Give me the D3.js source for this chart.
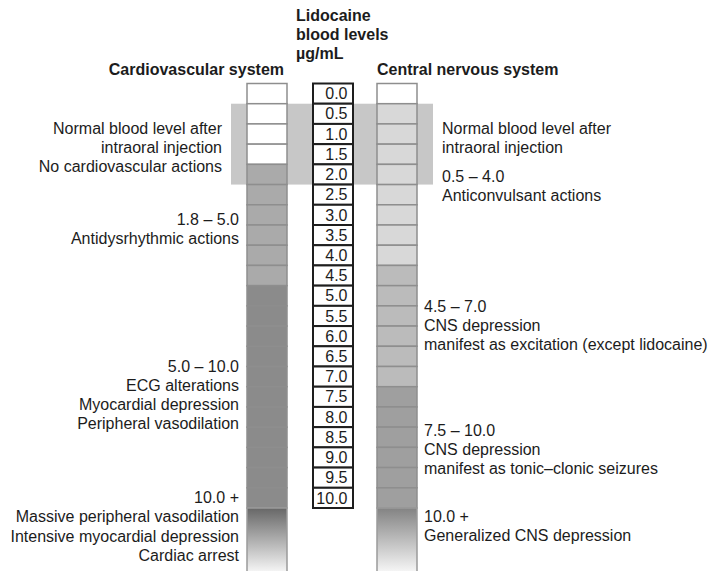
<!DOCTYPE html>
<html>
<head>
<meta charset="utf-8">
<script src="https://cdn.jsdelivr.net/npm/d3@7"></script>
<style>
  html, body { margin: 0; padding: 0; background: #fff; }
  svg { display: block; }
  text { font-family: "Liberation Sans", Arial, Helvetica, sans-serif; fill: #1c1c1c; }
</style>
</head>
<body>
<svg id="chart" width="712" height="571"></svg>
<script>
// ---- data ----
const levels = ["0.0","0.5","1.0","1.5","2.0","2.5","3.0","3.5","4.0","4.5","5.0","5.5","6.0","6.5","7.0","7.5","8.0","8.5","9.0","9.5","10.0"];
// shade class per level (0 = none, higher = stronger effect)
const cvShade  = [0,0,0,0,1,1,1,1,1,1,2,2,2,2,2,2,2,2,2,2,2];
const cnsShade = [0,1,1,1,1,1,1,1,1,2,2,2,2,2,2,3,3,3,3,3,3];
const cvColors  = ["#ffffff","#aaaaaa","#8b8b8b"];
const cnsColors = ["#ffffff","#d8d8d8","#bbbbbb","#9f9f9f"];
const normalRange = [0.5, 2.0];

const headerLines = ["Lidocaine","blood levels","\u00b5g/mL"];
const cvTitle = "Cardiovascular system";
const cnsTitle = "Central nervous system";

const cvNoteLevels = [1.25, 3.5, 7.13, 10.38];
const cvNotes = [
  ["Normal blood level after","intraoral injection","No cardiovascular actions"],
  ["1.8 \u2013 5.0","Antidysrhythmic actions"],
  ["5.0 \u2013 10.0","ECG alterations","Myocardial depression","Peripheral vasodilation"],
  ["10.0 +","Massive peripheral vasodilation","Intensive myocardial depression","Cardiac arrest"]
];
const cnsNoteLevels = [1.25, 5.64, 8.72, 10.84];
const cnsNotes = [
  ["Normal blood level after","intraoral injection","","0.5 \u2013 4.0","Anticonvulsant actions"],
  ["4.5 \u2013 7.0","CNS depression","manifest as excitation (except lidocaine)"],
  ["7.5 \u2013 10.0","CNS depression","manifest as tonic\u2013clonic seizures"],
  ["10.0 +","Generalized CNS depression"]
];

// ---- layout ----
const W = 712, H = 571;
const svg = d3.select("#chart");
const y = d3.scaleLinear().domain([0, 10.5]).range([83.5, 508]);
const step = y(0.5) - y(0);
const colW = 40;
const cvX = 247, midX = 313, cnsX = 377;
const bandX0 = 231, bandX1 = 433;
const lineH = 19.2;
const fs = 16;

svg.append("rect").attr("width", W).attr("height", H).attr("fill", "#fff");

const defs = svg.append("defs");
function grad(id, c0) {
  const g = defs.append("linearGradient").attr("id", id)
    .attr("x1", 0).attr("y1", 0).attr("x2", 0).attr("y2", 1);
  g.append("stop").attr("offset", "0%").attr("stop-color", c0);
  g.append("stop").attr("offset", "100%").attr("stop-color", "#f8f8f8");
}
grad("gcv", "#676767");
grad("gcns", "#838383");

// normal range band
svg.append("rect")
  .attr("x", bandX0).attr("width", bandX1 - bandX0)
  .attr("y", y(normalRange[0])).attr("height", y(normalRange[1] + 0.5) - y(normalRange[0]))
  .attr("fill", "#c7c7c7");

function column(x, shades, colors, gid) {
  const g = svg.append("g");
  g.selectAll("rect.cell").data(levels).join("rect")
    .attr("class", "cell")
    .attr("x", x).attr("width", colW)
    .attr("y", d => y(+d)).attr("height", step)
    .attr("fill", (d, i) => colors[shades[i]])
    .attr("stroke", "#8e8e8e").attr("stroke-width", 1.5);
  g.append("rect")
    .attr("x", x).attr("width", colW)
    .attr("y", y(10.5)).attr("height", H - y(10.5) + 2)
    .attr("fill", `url(#${gid})`)
    .attr("stroke", "#9a9a9a").attr("stroke-width", 1.5);
}
column(cvX, cvShade, cvColors, "gcv");
column(cnsX, cnsShade, cnsColors, "gcns");

// middle scale
const mid = svg.append("g");
mid.selectAll("rect").data(levels).join("rect")
  .attr("x", midX).attr("width", colW)
  .attr("y", d => y(+d)).attr("height", step)
  .attr("fill", "#fff").attr("stroke", "#1e1e1e").attr("stroke-width", 2);
mid.selectAll("text").data(levels).join("text")
  .attr("x", midX + colW - 5.5)
  .attr("y", d => y(+d) + step - 4.5)
  .attr("text-anchor", "end")
  .attr("font-size", fs)
  .text(d => d);

// headers
svg.append("g").selectAll("text").data(headerLines).join("text")
  .attr("x", 296).attr("y", (d, i) => 21 + i * 19.2)
  .attr("font-size", fs).attr("font-weight", "bold")
  .text(d => d);
svg.append("text").attr("x", cvX + colW - 3).attr("y", 75)
  .attr("text-anchor", "end").attr("font-size", fs).attr("font-weight", "bold").text(cvTitle);
svg.append("text").attr("x", cnsX).attr("y", 75)
  .attr("font-size", fs).attr("font-weight", "bold").text(cnsTitle);

// annotations
function inBand(v) { return v >= normalRange[0] && v <= normalRange[1] + 0.5; }
function notes(blocks, at, side) {
  const g = svg.append("g");
  blocks.forEach((lines, bi) => {
    const v = at[bi];
    let x, anchor;
    if (side === "left") {
      x = inBand(v) ? bandX0 - 9 : cvX - 8;
      anchor = "end";
    } else {
      x = inBand(v) ? bandX1 + 9 : cnsX + colW + 7;
      anchor = "start";
    }
    const y0 = y(v);
    const gapIdx = lines.indexOf("");
    g.selectAll(null).data(lines).join("text")
      .attr("x", x)
      .attr("y", (d, i) => y0 + i * lineH + (gapIdx >= 0 && i > gapIdx ? -lineH / 2 : 0))
      .attr("text-anchor", anchor)
      .attr("font-size", fs)
      .text(d => d);
  });
}
notes(cvNotes, cvNoteLevels, "left");
notes(cnsNotes, cnsNoteLevels, "right");
</script>
</body>
</html>
